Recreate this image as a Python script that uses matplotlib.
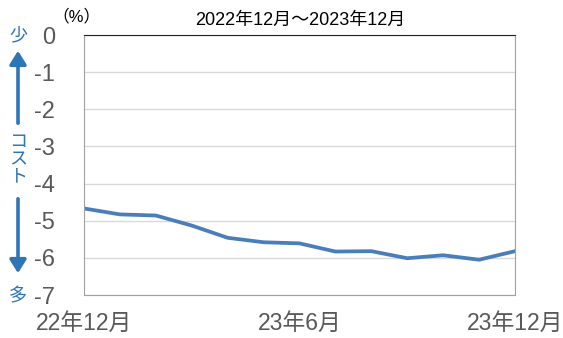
import matplotlib
matplotlib.use("Agg")
import matplotlib.pyplot as plt

months = list(range(13))
values = [-4.67, -4.83, -4.86, -5.13, -5.46, -5.58, -5.61, -5.83, -5.82, -6.01, -5.93, -6.05, -5.82]
x_tick_pos = [0, 6, 12]
x_tick_labels = ["22年12月", "23年6月", "23年12月"]
y_ticks = [0, -1, -2, -3, -4, -5, -6, -7]

FAM = ["Liberation Sans", "Noto Sans CJK JP"]
plt.rcParams['font.family'] = FAM

fig = plt.figure(figsize=(5.63, 3.38), dpi=100)
ax = fig.add_axes([84/563, 1-295/338, (515-84)/563, (295-35)/338])

ax.plot(months, values, color="#4a7ebb", lw=2.7, solid_joinstyle="round")
ax.set_xlim(0, 12)
ax.set_ylim(-7, 0)
ax.set_yticks(y_ticks)
ax.set_yticklabels([str(v) for v in y_ticks])
ax.set_xticks(x_tick_pos)
ax.set_xticklabels(x_tick_labels)
ax.tick_params(axis='both', length=0, colors="#595959")
ax.tick_params(axis='y', pad=21, labelsize=17)
ax.tick_params(axis='x', pad=12, labelsize=16.5)
ax.grid(axis='y', color="#d9d9d9", lw=1)
ax.set_axisbelow(True)
for s in ['left', 'bottom', 'right']:
    ax.spines[s].set_color("#a0a0a0")
ax.spines['top'].set_color("#222222")

fig.text(300/563, 1-20/338, "2022年12月～2023年12月", ha='center', va='center', fontsize=13, color='black')
fig.text(76/563, 1-16/338, "（%）", ha='center', va='center', fontsize=12, color='black')

blue = "#2e75b6"
fig.text(18/563, 1-36/338, "少", ha='center', va='center', fontsize=13, color=blue)
fig.text(18/563, 1-297/338, "多", ha='center', va='center', fontsize=13, color=blue)
fig.text(18/563, 1-160/338, "コ\nス\nト", ha='center', va='center', fontsize=13, color=blue, linespacing=1.0)
fig.patches.append(matplotlib.patches.FancyArrowPatch((18/563, 1-126/338), (18/563, 1-48/338), transform=fig.transFigure,
                   arrowstyle='-|>,head_width=5,head_length=8', color=blue, lw=2.6, mutation_scale=1))
fig.patches.append(matplotlib.patches.FancyArrowPatch((18/563, 1-196/338), (18/563, 1-276/338), transform=fig.transFigure,
                   arrowstyle='-|>,head_width=5,head_length=8', color=blue, lw=2.6, mutation_scale=1))

fig.savefig("out.png", dpi=100)
